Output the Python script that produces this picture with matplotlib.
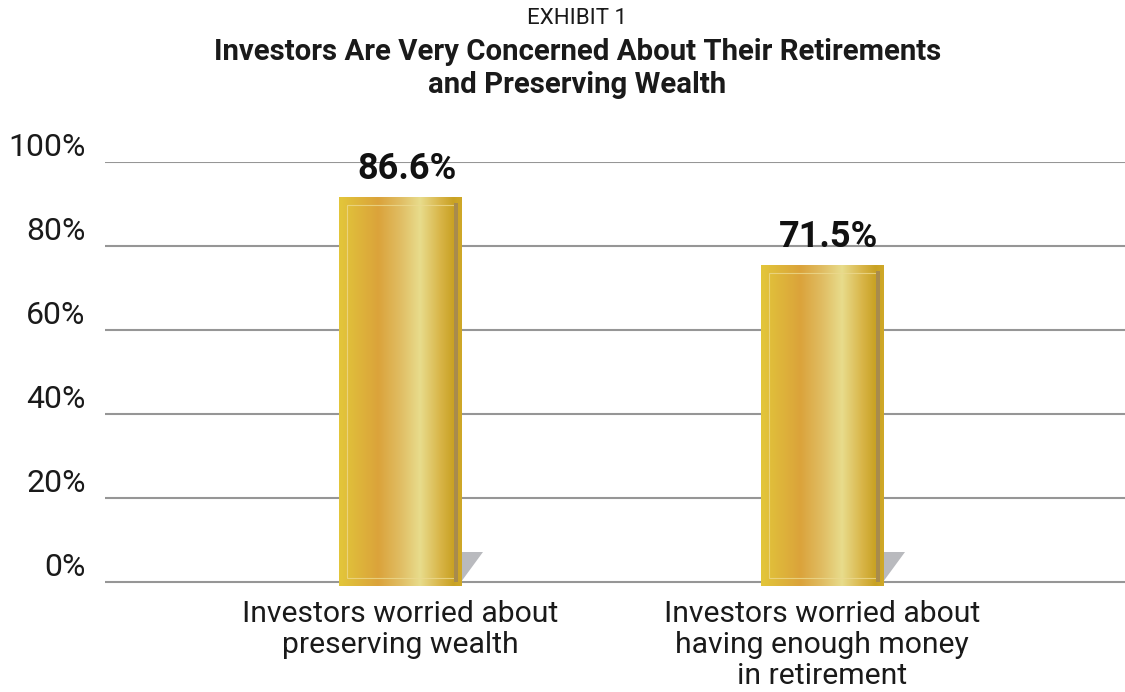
import numpy as np
import matplotlib
matplotlib.use("Agg")
import matplotlib.pyplot as plt
from matplotlib.patches import Rectangle, Polygon
from matplotlib.colors import to_rgb

# data
categories = ["Investors worried about\npreserving wealth",
              "Investors worried about\nhaving enough money\nin retirement"]
values = [86.6, 71.5]
value_labels = ["86.6%", "71.5%"]
yticks = [0, 20, 40, 60, 80, 100]
ytick_labels = ["0%", "20%", "40%", "60%", "80%", "100%"]

plt.rcParams['font.family'] = ['Roboto', 'DejaVu Sans']

fig = plt.figure(figsize=(11.25, 6.92), dpi=100)
ax = fig.add_axes([105 / 1125, 1 - 586 / 692, 1020 / 1125, 424 / 692])

# gridlines / y axis (back wall)
ax.set_ylim(-0.952, 100)
ax.set_xlim(-0.699, 1.718)
ax.set_yticks(yticks)
ax.set_yticklabels(ytick_labels, fontsize=23, color='#1a1a1a')
for lab in ax.get_yticklabels():
    lab.set_va('bottom')
ax.tick_params(axis='y', length=0, pad=14)
ax.set_xticks(range(len(categories)))
ax.set_xticklabels(categories, fontsize=21.7, color='#1a1a1a', linespacing=1.13)
ax.tick_params(axis='x', length=0, pad=10)
ax.grid(axis='y', color='#969696', linewidth=1.5)
ax.set_axisbelow(True)
for s in ax.spines.values():
    s.set_visible(False)

# bars on a front plane (3d look: front face scaled a bit more)
ax2 = ax.twinx()
ax2.set_ylim(0, 94.35)
ax2.set_yticks([])
for s in ax2.spines.values():
    s.set_visible(False)

px_x = 1 / 422.0     # data units per pixel (x)
px_y = 1 / 4.494     # data units per pixel (y, bar plane)
width = 122 * px_x

stops = [0.0, 0.12, 0.32, 0.5, 0.66, 0.82, 0.93, 1.0]
cols = ['#e3c63a', '#dfb93a', '#dba33b', '#e0bd63', '#e8dc8c', '#d9b64a', '#c9a224', '#cfa828']
rgb = np.array([to_rgb(c) for c in cols])
xs = np.linspace(0, 1, 256)
grad = np.stack([np.interp(xs, stops, rgb[:, k]) for k in range(3)], axis=1)[None, :, :]

for i, v in enumerate(values):
    x0 = i - width / 2
    x1 = i + width / 2
    # shadow on the floor
    shadow = Polygon([(x1 - 2 * px_x, 34 * px_y), (x1 + 22 * px_x, 34 * px_y),
                      (x1, 4 * px_y)], closed=True, facecolor='#b9babe',
                     edgecolor='none', zorder=1)
    ax2.add_patch(shadow)
    rect = Rectangle((x0, 0), width, v, facecolor='none', edgecolor='none', zorder=2)
    ax2.add_patch(rect)
    im = ax2.imshow(grad, extent=[x0, x1, 0, v], aspect='auto', zorder=2,
                    interpolation='bilinear')
    im.set_clip_path(rect)
    # inner highlight frame
    ax2.add_patch(Rectangle((x0 + 8 * px_x, 8 * px_y), width - 14 * px_x, v - 16 * px_y,
                            facecolor='none', edgecolor='#ecd98e', linewidth=0.8,
                            alpha=0.8, zorder=3))
    # dark edge strip on the right
    ax2.add_patch(Rectangle((x1 - 7 * px_x, 4 * px_y), 4 * px_x, v - 10 * px_y,
                            facecolor='#a88b4c', edgecolor='none', zorder=3))
    ax2.annotate(value_labels[i], (i, v), xytext=(5, 7), textcoords='offset points',
                 ha='center', va='bottom', fontsize=26, fontweight='bold',
                 color='#111111', zorder=4)

ax2.set_xlim(-0.699, 1.718)
ax2.set_ylim(0, 94.35)

fig.text(0.513, 1 - 18 / 692, "EXHIBIT 1", ha='center', va='center',
         fontsize=16, color='#1a1a1a')
fig.text(0.513, 1 - 52 / 692, "Investors Are Very Concerned About Their Retirements",
         ha='center', va='center', fontsize=21.2, fontweight='bold', color='#1a1a1a')
fig.text(0.513, 1 - 85 / 692, "and Preserving Wealth",
         ha='center', va='center', fontsize=21.2, fontweight='bold', color='#1a1a1a')

fig.savefig("out.png", dpi=100)
